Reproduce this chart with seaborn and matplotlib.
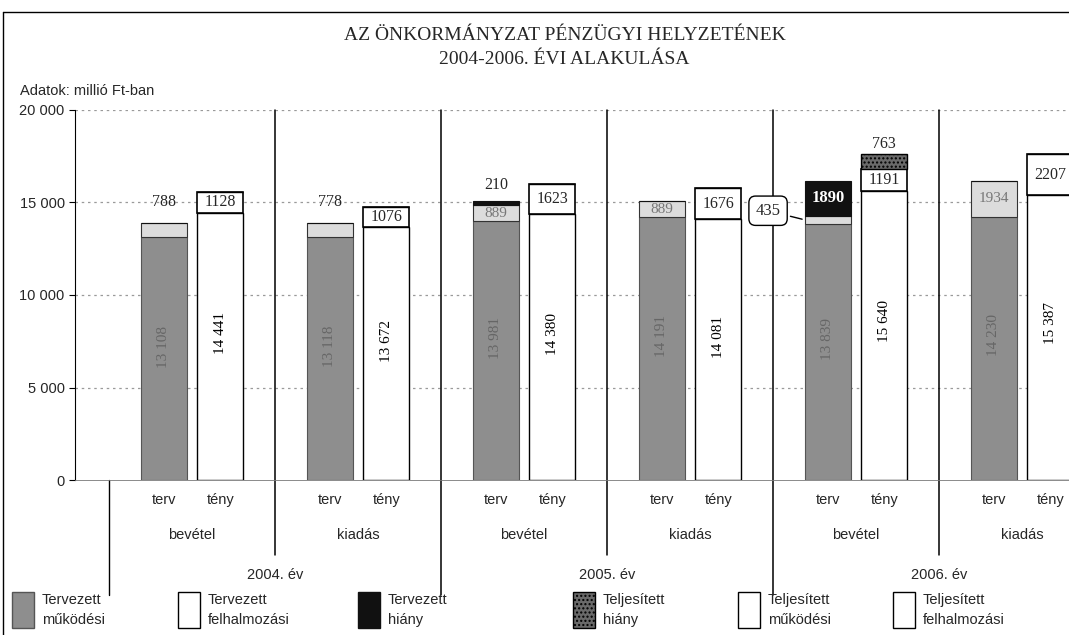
import matplotlib
matplotlib.use("Agg")
import matplotlib.pyplot as plt
import seaborn as sns
from matplotlib.patches import Rectangle

# data (millió Ft)
years = ["2004. év", "2005. év", "2006. év"]
sides = ["bevétel", "kiadás", "bevétel", "kiadás", "bevétel", "kiadás"]
bar_names = ["terv", "tény"]
terv_mukodesi = [13108, 13118, 13981, 14191, 13839, 14230]
terv_felhalm = [788, 778, 889, 889, 435, 1934]
terv_hiany = [0, 0, 210, 0, 1890, 0]
teny_mukodesi = [14441, 13672, 14380, 14081, 15640, 15387]
teny_felhalm = [1128, 1076, 1623, 1676, 1191, 2207]
teny_hiany = [0, 0, 0, 0, 763, 0]
yticks = [0, 5000, 10000, 15000, 20000]
legend_labels = ["Tervezett\nműködési", "Tervezett\nfelhalmozási", "Tervezett\nhiány",
                 "Teljesített\nhiány", "Teljesített\nműködési", "Teljesített\nfelhalmozási"]

sns.set_style("white")
serif = ["Liberation Serif", "DejaVu Serif"]
sans = ["Liberation Sans", "DejaVu Sans"]
plt.rcParams["font.family"] = sans

c_gray = "#8e8e8e"
c_light = "#dcdcdc"
c_black = "#111111"
c_dark = "#6a6a6a"

fig = plt.figure(figsize=(10.69, 6.35), dpi=100)
ax = fig.add_axes([0.0702, 0.244, 0.9298, 0.583])

w = 0.277
off = 0.17
n = len(sides)
xt = [i - off for i in range(n)]
xr = [i + off for i in range(n)]

# terv bars
ax.bar(xt, terv_mukodesi, width=w, color=c_gray, edgecolor="#555555", linewidth=0.8)
ax.bar(xt, terv_felhalm, bottom=terv_mukodesi, width=w, color=c_light, edgecolor="#333333", linewidth=0.8)
b3 = [a + b for a, b in zip(terv_mukodesi, terv_felhalm)]
ax.bar(xt, terv_hiany, bottom=b3, width=w, color=c_black, edgecolor=c_black, linewidth=0.8)

# teny bars
ax.bar(xr, teny_mukodesi, width=w, color="white", edgecolor="black", linewidth=1.0)
ax.bar(xr, teny_felhalm, bottom=teny_mukodesi, width=w, color="white", edgecolor="black", linewidth=1.2)
t3 = [a + b for a, b in zip(teny_mukodesi, teny_felhalm)]
ax.bar(xr, teny_hiany, bottom=t3, width=w, color=c_dark, edgecolor="black", linewidth=1.0, hatch="....")


def sp(v):
    return f"{v:,}".replace(",", " ")


for i in range(n):
    # rotated values in main segments
    ax.text(xt[i], terv_mukodesi[i] * 0.55, sp(terv_mukodesi[i]), rotation=90, ha="center",
            va="center", family=serif, fontsize=11, color="#666666")
    ax.text(xr[i], teny_mukodesi[i] * 0.55, sp(teny_mukodesi[i]), rotation=90, ha="center",
            va="center", family=serif, fontsize=11, color="black")
    # felhalmozasi of teny inside box
    ax.text(xr[i], teny_mukodesi[i] + teny_felhalm[i] / 2, str(teny_felhalm[i]), ha="center",
            va="center", family=serif, fontsize=11.5)
    top_t = terv_mukodesi[i] + terv_felhalm[i] + terv_hiany[i]
    if terv_felhalm[i] > 850 and i != 4:
        ax.text(xt[i], terv_mukodesi[i] + terv_felhalm[i] / 2, str(terv_felhalm[i]), ha="center",
                va="center", family=serif, fontsize=11, color="#777777")
    elif i != 4:
        ax.text(xt[i], top_t + 700, str(terv_felhalm[i]), ha="center", va="bottom",
                family=serif, fontsize=11.5)
    if terv_hiany[i] and i != 4:
        ax.text(xt[i], top_t + 450, str(terv_hiany[i]), ha="center", va="bottom",
                family=serif, fontsize=11.5)
    if teny_hiany[i]:
        ax.text(xr[i], t3[i] + teny_hiany[i] + 150, str(teny_hiany[i]), ha="center",
                va="bottom", family=serif, fontsize=11.5)

# 2006 bevetel terv: deficit label and callout
ax.text(xt[4], b3[4] + terv_hiany[4] / 2, str(terv_hiany[4]), ha="center", va="center",
        family=serif, fontsize=12, fontweight="bold", color="white")
ax.annotate(str(terv_felhalm[4]), xy=(xt[4] - w / 2, terv_mukodesi[4] + terv_felhalm[4] / 2),
            xytext=(3.47, 14550), ha="center", va="center", family=serif, fontsize=12,
            bbox=dict(boxstyle="round,pad=0.4", fc="white", ec="black", lw=1.0),
            arrowprops=dict(arrowstyle="-", color="black", lw=1.0))

ax.set_xlim(-0.705, 5.283)
ax.set_ylim(0, 20000)
ax.set_yticks(yticks)
ax.set_yticklabels([sp(v) for v in yticks], fontsize=10.5)
ax.set_xticks([])
for v in yticks[1:]:
    ax.axhline(v, color="#9a9a9a", lw=0.9, ls=(0, (2, 3)), zorder=0)
for s in ["top", "right"]:
    ax.spines[s].set_visible(False)
ax.spines["left"].set_color("black")
ax.spines["bottom"].set_color("#777777")
ax.spines["bottom"].set_linewidth(0.6)
ax.tick_params(axis="y", left=True, length=4, width=0.8, color="black")

# category labels and dividers
tr = ax.get_xaxis_transform()
for i in range(n):
    ax.text(xt[i], -0.054, bar_names[0], transform=tr, ha="center", va="center", fontsize=10.5)
    ax.text(xr[i], -0.054, bar_names[1], transform=tr, ha="center", va="center", fontsize=10.5)
    ax.text(i, -0.149, sides[i], transform=tr, ha="center", va="center", fontsize=10.5)
for k, yl in enumerate(years):
    ax.text(2 * k + 0.5, -0.257, yl, transform=tr, ha="center", va="center", fontsize=10.5)
for i in range(n):
    xd = i + 0.5
    low = -0.311 if i % 2 == 1 else -0.203
    if xd < 5.283:
        ax.plot([xd, xd], [1.0, low], transform=tr, color="black", lw=1.1, clip_on=False)
ax.plot([-0.5, -0.5], [0.0, -0.311], transform=tr, color="black", lw=1.0, clip_on=False)

# titles
fig.text(0.528, 1 - 35 / 635, "AZ ÖNKORMÁNYZAT PÉNZÜGYI HELYZETÉNEK", ha="center", va="center",
         family=serif, fontsize=14)
fig.text(0.528, 1 - 60 / 635, "2004-2006. ÉVI ALAKULÁSA", ha="center", va="center",
         family=serif, fontsize=14)
fig.text(20 / 1069, 1 - 91 / 635, "Adatok: millió Ft-ban", ha="left", va="center", fontsize=10.5)

# chart frame
fig.add_artist(plt.Line2D([3 / 1069, 1], [1 - 12 / 635, 1 - 12 / 635], color="black", lw=1.0))
fig.add_artist(plt.Line2D([3 / 1069, 3 / 1069], [0, 1 - 12 / 635], color="black", lw=1.0))

# legend drawn by hand
leg_x = [12, 178, 358, 573, 738, 893]
leg_style = [(c_gray, "#555555", None), ("white", "black", None), (c_black, c_black, None),
             (c_dark, "black", "...."), ("white", "black", None), ("white", "black", None)]
for x0, lab, (fc, ec, h) in zip(leg_x, legend_labels, leg_style):
    fig.add_artist(Rectangle((x0 / 1069, 1 - 628 / 635), 22 / 1069, 36 / 635, transform=fig.transFigure,
                             facecolor=fc, edgecolor=ec, lw=1.0, hatch=h))
    fig.text((x0 + 30) / 1069, 1 - 610 / 635, lab, ha="left", va="center", fontsize=10.5,
             linespacing=1.6)

fig.savefig("out.png", dpi=100)
plt.close(fig)
